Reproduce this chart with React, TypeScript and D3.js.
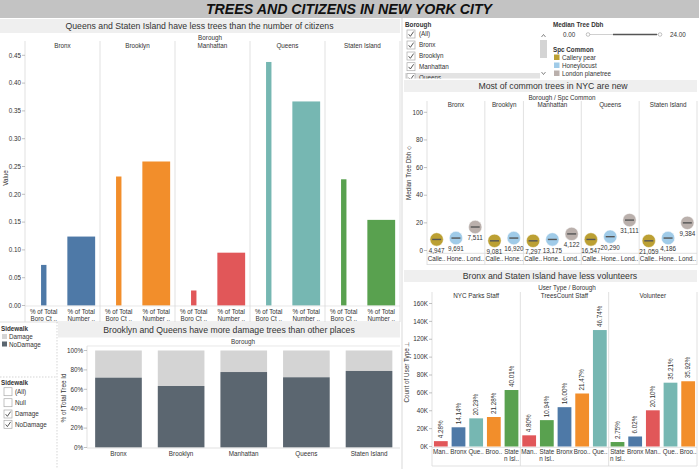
import React from "react";
import * as d3 from "d3";

const FONT = "'Liberation Sans', Arial, sans-serif";
const TXT = "#333";
const SEP = "#d9d9d9";
const SM = 6.3;

const boroughs = ["Bronx", "Brooklyn", "Manhattan", "Queens", "Staten Island"];
const boroughColors = ["#4e79a7", "#f28e2b", "#e15759", "#76b7b2", "#59a14f"];

// Chart 1: % of total boro count vs % of total number (citizens)
const pctBoroCt = [0.073, 0.232, 0.027, 0.438, 0.227];
const pctNumber = [0.124, 0.259, 0.095, 0.367, 0.154];
const valueTicks = [0, 0.05, 0.1, 0.15, 0.2, 0.25, 0.3, 0.35, 0.4, 0.45];
const measureLabels = [["% of Total", "Boro Ct .."], ["% of Total", "Number .."]];

// Chart 2: sidewalk damage share
const noDamageShare = [0.72, 0.634, 0.778, 0.724, 0.789];
const pctTicks = [0, 0.2, 0.4, 0.6, 0.8, 1];

// Chart 3: median tree dbh per species
const species = ["Callery pear", "Honeylocust", "London planetree"];
const speciesShort = ["Calle..", "Hone..", "Lond.."];
const speciesColors = ["#bca033", "#a0cbe8", "#bab0ac"];
const dbhSpecies = [[0, 1, 2], [0, 1], [0, 1, 2], [0, 1, 2], [0, 1, 2]];
const dbhMedian = [[8, 9, 17], [7, 9], [7, 8, 12], [8, 10, 22], [7, 9, 20]];
const dbhCount = [[4947, 9691, 7511], [9081, 16920], [7297, 13175, 4122], [16547, 20290, 31111], [21059, 4186, 9384]];
const dbhTicks = [0, 20, 40, 60, 80, 100];

// Chart 4: user types
const userTypes = ["NYC Parks Staff", "TreesCount Staff", "Volunteer"];
const userBoroughs = [[2, 0, 3, 1, 4], [2, 4, 0, 1, 3], [4, 0, 2, 3, 1]];
const userCounts = [
  [6000, 21500, 31500, 33000, 63200],
  [12500, 29500, 44000, 59300, 130300],
  [5000, 11200, 40500, 71400, 73000],
];
const userPct = [
  ["4.28%", "14.14%", "20.29%", "21.28%", "40.01%"],
  ["4.80%", "10.94%", "16.00%", "21.47%", "46.74%"],
  ["2.75%", "6.02%", "20.10%", "35.21%", "35.92%"],
];
const userShort = [["Bronx"], ["Broo.."], ["Man.."], ["Que.."], ["State", "n Isl.."]];
const countTicks = [0, 20000, 40000, 60000, 80000, 100000, 120000, 140000, 160000];

const boroFilter = ["(All)", "Bronx", "Brooklyn", "Manhattan", "Queens"];
const sidewalkFilter = ["(All)", "Null", "Damage", "NoDamage"];
const sidewalkChecked = [false, false, true, true];

function T(props: any) {
  const { children, size = SM, anchor = "start", weight, style, ...rest } = props;
  return (
    <text fontFamily={FONT} fontSize={size} fill={TXT} textAnchor={anchor} fontWeight={weight} fontStyle={style} {...rest}>
      {children}
    </text>
  );
}

function CheckBox({ x, y, checked }: { x: number; y: number; checked: boolean }) {
  return (
    <g transform={`translate(${x},${y})`}>
      <rect x={0} y={0} width={8} height={8} fill="#fff" stroke="#aaa" strokeWidth={0.7} />
      {checked && <path d="M1.6,4.2 L3.4,6.3 L6.6,1.6" fill="none" stroke="#444" strokeWidth={0.9} />}
    </g>
  );
}

function ChartTitle({ x0, x1, y, h, text, cx }: any) {
  return (
    <g>
      <rect x={x0} y={y} width={x1 - x0} height={h} fill="#efefef" />
      <T size={8.7} anchor="middle" x={cx ?? (x0 + x1) / 2} y={y + h / 2 + 3.1}>{text}</T>
    </g>
  );
}

function TopLeft() {
  const x = d3.scaleBand<number>().domain(d3.range(10)).range([25, 400]);
  const y = d3.scaleLinear().domain([0, 0.45]).range([305.5, 55.3]);
  const panelW = x.step() * 2;
  return (
    <g>
      <ChartTitle x0={0} x1={400} y={19} h={14} text="Queens and Staten Island have less trees than the number of citizens" cx={199.5} />
      <T anchor="middle" x={210} y={39.5}>Borough</T>
      {boroughs.map((b, i) => (
        <T key={b} anchor="middle" x={25 + panelW * (i + 0.5)} y={48}>{b}</T>
      ))}
      {d3.range(6).map((i) => (
        <line key={i} x1={25 + panelW * i} x2={25 + panelW * i} y1={41} y2={322} stroke={SEP} strokeWidth={0.8} />
      ))}
      {valueTicks.map((t) => (
        <g key={t}>
          <line x1={22} x2={25} y1={y(t)} y2={y(t)} stroke="#999" strokeWidth={0.6} />
          <T anchor="end" x={21} y={y(t) + 2.2}>{d3.format(".2f")(t)}</T>
        </g>
      ))}
      <T anchor="middle" transform={`translate(8,178) rotate(-90)`}>Value</T>
      {boroughs.map((b, i) => {
        const c0 = (x(2 * i) as number) + x.bandwidth() / 2;
        const c1 = (x(2 * i + 1) as number) + x.bandwidth() / 2;
        return (
          <g key={b}>
            <rect x={c0 - 2.7} width={5.4} y={y(pctBoroCt[i])} height={y(0) - y(pctBoroCt[i])} fill={boroughColors[i]} />
            <rect x={c1 - 13.9} width={27.8} y={y(pctNumber[i])} height={y(0) - y(pctNumber[i])} fill={boroughColors[i]} />
          </g>
        );
      })}
      <line x1={25} x2={400} y1={306} y2={306} stroke={SEP} strokeWidth={0.6} />
      <clipPath id="tlclip"><rect x={25} y={306} width={375} height={16} /></clipPath>
      <g clipPath="url(#tlclip)">
        {d3.range(10).map((k) => {
          const cx = (x(k) as number) + x.bandwidth() / 2;
          const lab = measureLabels[k % 2];
          return (
            <g key={k}>
              <T anchor="middle" x={cx} y={313.5}>{lab[0]}</T>
              <T anchor="middle" x={cx} y={320.5}>{lab[1]}</T>
            </g>
          );
        })}
      </g>
      <line x1={0} x2={400} y1={322} y2={322} stroke={SEP} strokeWidth={0.8} />
    </g>
  );
}

function LeftLegends() {
  return (
    <g>
      <T weight="bold" x={1} y={331}>Sidewalk</T>
      <rect x={2} y={334} width={5} height={5} fill="#d4d4d4" />
      <T x={9} y={339}>Damage</T>
      <rect x={2} y={341.5} width={5} height={5} fill="#5b6670" />
      <T x={9} y={346.5}>NoDamage</T>
      <line x1={0} x2={57} y1={377} y2={377} stroke="#bbb" strokeWidth={0.6} strokeDasharray="1.5,1.5" />
      <line x1={57} x2={57} y1={322} y2={469} stroke="#bbb" strokeWidth={0.6} strokeDasharray="1.5,1.5" />
      <T weight="bold" x={1} y={384.5}>Sidewalk</T>
      {sidewalkFilter.map((s, i) => {
        const cy = [391.7, 402.7, 414, 424.3][i];
        return (
          <g key={s}>
            <CheckBox x={4} y={cy - 4} checked={sidewalkChecked[i]} />
            <T x={15} y={cy + 2.2}>{s}</T>
          </g>
        );
      })}
    </g>
  );
}

function BottomLeft() {
  const x = d3.scaleBand<string>().domain(boroughs).range([87, 400.5]).paddingInner(0.255).paddingOuter(0.13);
  const y = d3.scaleLinear().domain([0, 1]).range([447.5, 350.5]);
  return (
    <g>
      <ChartTitle x0={58} x1={400} y={323} h={14.5} text="Brooklyn and Queens have more damage trees than other places" cx={229} />
      <T anchor="middle" x={243} y={344}>Borough</T>
      <line x1={87} x2={400} y1={346} y2={346} stroke={SEP} strokeWidth={0.6} />
      <line x1={87} x2={87} y1={346} y2={448} stroke={SEP} strokeWidth={0.8} />
      {pctTicks.map((t) => (
        <g key={t}>
          <line x1={84} x2={87} y1={y(t)} y2={y(t)} stroke="#999" strokeWidth={0.6} />
          <T anchor="end" x={83} y={y(t) + 2.2}>{d3.format(".0%")(t)}</T>
        </g>
      ))}
      <T anchor="middle" transform={`translate(66,398) rotate(-90)`}>% of Total Tree Id</T>
      {boroughs.map((b, i) => (
        <g key={b}>
          <rect x={x(b)} width={x.bandwidth()} y={y(1)} height={y(noDamageShare[i]) - y(1)} fill="#d4d4d4" />
          <rect x={x(b)} width={x.bandwidth()} y={y(noDamageShare[i])} height={y(0) - y(noDamageShare[i])} fill="#5b6670" />
          <T anchor="middle" x={(x(b) as number) + x.bandwidth() / 2} y={455.5}>{b}</T>
        </g>
      ))}
      <line x1={87} x2={400} y1={448} y2={448} stroke={SEP} strokeWidth={0.8} />
    </g>
  );
}

function TopRight() {
  const rows = [34, 45, 56, 66.7, 77.5];
  return (
    <g>
      <T weight="bold" x={405} y={27}>Borough</T>
      <clipPath id="boroclip"><rect x={404} y={29} width={146} height={49.5} /></clipPath>
      <g clipPath="url(#boroclip)">
        <rect x={405} y={73} width={135} height={10} fill="#e3e3e3" />
        {boroFilter.map((b, i) => (
          <g key={b}>
            <CheckBox x={407} y={rows[i] - 4} checked={true} />
            <T x={419} y={rows[i] + 2.2}>{b}</T>
          </g>
        ))}
      </g>
      <rect x={540} y={40} width={7} height={18} fill="#d4d4d4" />
      <path d="M541.5,37 L543.5,34.5 L545.5,37" fill="none" stroke="#555" strokeWidth={0.7} />
      <path d="M541.5,72 L543.5,74.5 L545.5,72" fill="none" stroke="#555" strokeWidth={0.7} />

      <T weight="bold" x={553} y={27}>Median Tree Dbh</T>
      <T x={563} y={36.5}>0.00</T>
      <line x1={588} x2={660} y1={34.5} y2={34.5} stroke="#bbb" strokeWidth={0.7} />
      <line x1={613} x2={657} y1={34.5} y2={34.5} stroke="#555" strokeWidth={1.5} />
      <circle cx={588} cy={34.5} r={1.8} fill="#fff" stroke="#999" strokeWidth={0.6} />
      <circle cx={660} cy={34.5} r={1.8} fill="#fff" stroke="#999" strokeWidth={0.6} />
      <T x={670} y={36.5}>24.00</T>

      <T weight="bold" x={553} y={51.5}>Spc Common</T>
      {species.map((s, i) => (
        <g key={s}>
          <rect x={554} y={54.5 + i * 8} width={5.5} height={5.5} fill={speciesColors[i]} />
          <T x={562} y={59.7 + i * 8}>{s}</T>
        </g>
      ))}
    </g>
  );
}

function MiddleRight() {
  const x = d3.scaleBand<number>().domain(d3.range(14)).range([427, 697]);
  const y = d3.scaleLinear().domain([0, 100]).range([250.5, 112.3]);
  const offsets: number[] = [];
  let acc = 0;
  dbhSpecies.forEach((s) => { offsets.push(acc); acc += s.length; });
  const fmt = d3.format(",");
  return (
    <g>
      <ChartTitle x0={404} x1={697} y={80} h={12} text="Most of common trees in NYC are new" cx={553} />
      <T anchor="middle" x={562} y={99.5}>Borough  /  Spc Common</T>
      {boroughs.map((b, i) => {
        const x0 = x(offsets[i]) as number;
        const w = dbhSpecies[i].length * x.step();
        return <T key={b} anchor="middle" x={x0 + w / 2} y={106.8}>{b}</T>;
      })}
      {[...offsets, 14].map((o) => (
        <line key={o} x1={427 + o * x.step()} x2={427 + o * x.step()} y1={101} y2={265} stroke={SEP} strokeWidth={0.8} />
      ))}
      {dbhTicks.map((t) => (
        <g key={t}>
          <line x1={424} x2={427} y1={y(t)} y2={y(t)} stroke="#999" strokeWidth={0.6} />
          <T anchor="end" x={423} y={y(t) + 2.2}>{t}</T>
        </g>
      ))}
      <T anchor="middle" transform={`translate(411,173) rotate(-90)`}>Median Tree Dbh ⬦</T>
      <line x1={427} x2={697} y1={253.3} y2={253.3} stroke={SEP} strokeWidth={0.8} />
      <line x1={427} x2={697} y1={264.5} y2={264.5} stroke={SEP} strokeWidth={0.8} />
      {boroughs.map((b, i) =>
        dbhSpecies[i].map((sp, j) => {
          const k = offsets[i] + j;
          const cx = (x(k) as number) + x.bandwidth() / 2;
          const cy = y(dbhMedian[i][j]);
          return (
            <g key={b + sp}>
              <circle cx={cx} cy={cy} r={6.7} fill={speciesColors[sp]} stroke="#fff" strokeWidth={0.5} />
              <line x1={cx - 4.5} x2={cx + 4.5} y1={cy} y2={cy} stroke="#555" strokeWidth={1.4} />
              <T anchor="middle" x={cx} y={cy + 13.3}>{fmt(dbhCount[i][j])}</T>
              <T anchor="middle" x={cx} y={260.8}>{speciesShort[sp]}</T>
            </g>
          );
        })
      )}
    </g>
  );
}

function BottomRight() {
  const x = d3.scaleBand<number>().domain(d3.range(15)).range([432, 697]).paddingInner(0.22).paddingOuter(0.11);
  const y = d3.scaleLinear().domain([0, 160000]).range([446.5, 303.5]);
  const step = 265 / 3;
  const fmtK = (v: number) => `${v / 1000}K`;
  return (
    <g>
      <ChartTitle x0={404} x1={697} y={270} h={12} text="Bronx and Staten Island have less volunteers" cx={550} />
      <T anchor="middle" x={567} y={290}>User Type  /  Borough</T>
      {userTypes.map((u, i) => (
        <T key={u} anchor="middle" x={432 + step * (i + 0.5)} y={297.5}>{u}</T>
      ))}
      {d3.range(4).map((i) => (
        <line key={i} x1={432 + step * i} x2={432 + step * i} y1={292} y2={466} stroke={SEP} strokeWidth={0.8} />
      ))}
      {countTicks.map((t) => (
        <g key={t}>
          <line x1={429} x2={432} y1={y(t)} y2={y(t)} stroke="#999" strokeWidth={0.6} />
          <T anchor="end" x={428} y={y(t) + 2.2}>{fmtK(t)}</T>
        </g>
      ))}
      <T anchor="middle" transform={`translate(409,372) rotate(-90)`}>Count of User Type ⊥</T>
      <line x1={432} x2={697} y1={447.3} y2={447.3} stroke={SEP} strokeWidth={0.8} />
      <line x1={432} x2={697} y1={466} y2={466} stroke={SEP} strokeWidth={0.8} />
      {userTypes.map((u, i) =>
        userBoroughs[i].map((bi, j) => {
          const k = i * 5 + j;
          const bx = x(k) as number;
          const cx = bx + x.bandwidth() / 2;
          const v = userCounts[i][j];
          const lines = userShort[bi];
          return (
            <g key={u + bi}>
              <rect x={bx} width={x.bandwidth()} y={y(v)} height={y(0) - y(v)} fill={boroughColors[bi]} />
              <T transform={`translate(${cx + 2.2},${y(v) - 3}) rotate(-90)`}>{userPct[i][j]}</T>
              {lines.map((l, li) => (
                <T key={li} anchor="middle" x={cx} y={454 + li * 7}>{l}</T>
              ))}
            </g>
          );
        })
      )}
    </g>
  );
}

export default function App() {
  return (
    <svg width={699} height={469} style={{ position: "absolute", left: 0, top: 0, background: "#fff" }}>
      <rect x={0} y={0} width={699} height={469} fill="#fff" />
      <rect x={0} y={0} width={699} height={18} fill="#c3c3c3" />
      <T size={14.2} weight="bold" style="italic" anchor="middle" x={349} y={14.3} fill="#111">
        TREES AND CITIZENS IN NEW YORK CITY
      </T>
      <line x1={402} x2={402} y1={18} y2={469} stroke="#cfcfcf" strokeWidth={0.8} />
      <TopLeft />
      <LeftLegends />
      <BottomLeft />
      <TopRight />
      <MiddleRight />
      <BottomRight />
    </svg>
  );
}
